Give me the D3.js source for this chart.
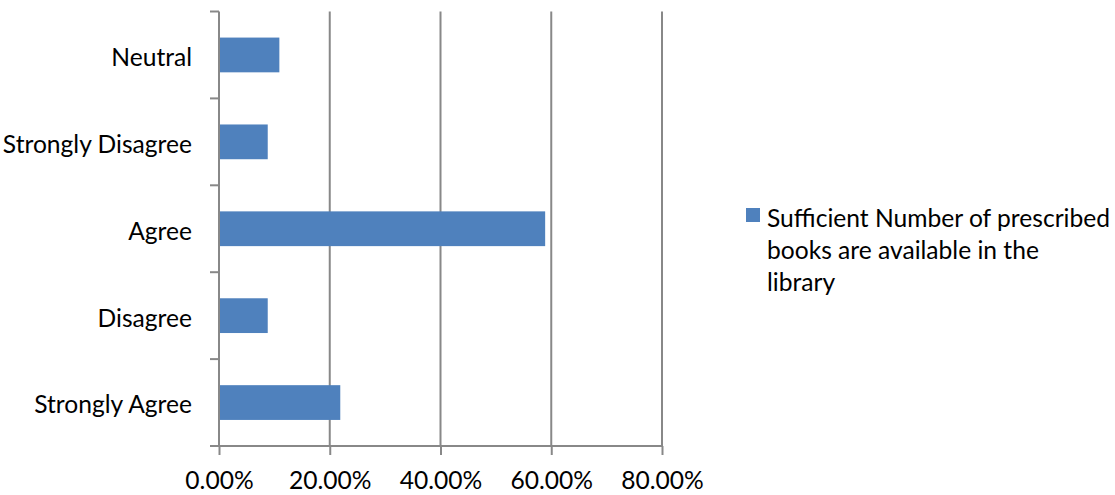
<!DOCTYPE html>
<html>
<head>
<meta charset="utf-8">
<script src="https://cdn.jsdelivr.net/npm/d3@7"></script>
<style>
  html, body { margin: 0; padding: 0; background: #fff; }
  svg { display: block; }
  text { font-family: Lato, "Open Sans", sans-serif; fill: #000; }
</style>
</head>
<body>
<svg id="chart" width="1115" height="495"></svg>
<script>
const categories = ["Neutral", "Strongly Disagree", "Agree", "Disagree", "Strongly Agree"];
const values = [0.109, 0.088, 0.589, 0.088, 0.219];
const tickValues = [0, 0.2, 0.4, 0.6, 0.8];
const seriesName = "Sufficient Number of prescribed books are available in the library";
const legendLines = ["Sufficient Number of prescribed", "books are available in the", "library"];

const svg = d3.select("#chart");
const fontSize = 24.6;
const gray = "#888888";
const barColor = "#4F81BD";

const x = d3.scaleLinear().domain([0, 0.8]).range([219, 662]);
const y = d3.scaleBand().domain(categories).range([11.5, 446]).paddingInner(0.6).paddingOuter(0.3);

// gridlines
svg.append("g").selectAll("line").data(tickValues.slice(1)).join("line")
  .attr("x1", d => x(d)).attr("x2", d => x(d))
  .attr("y1", 11.5).attr("y2", 446)
  .attr("stroke", gray).attr("stroke-width", 2);

// bars
svg.append("g").selectAll("rect").data(categories).join("rect")
  .attr("x", x(0))
  .attr("y", d => y(d))
  .attr("width", (d, i) => x(values[i]) - x(0))
  .attr("height", y.bandwidth())
  .attr("fill", barColor);

// y axis line and boundary ticks
const yAxisG = svg.append("g");
yAxisG.append("line").attr("x1", x(0)).attr("x2", x(0)).attr("y1", 11.5).attr("y2", 446)
  .attr("stroke", gray).attr("stroke-width", 2);
const bounds = d3.range(categories.length + 1).map(i => 11.5 + i * y.step());
yAxisG.selectAll("line.tick").data(bounds).join("line").attr("class", "tick")
  .attr("x1", 210).attr("x2", x(0)).attr("y1", d => d).attr("y2", d => d)
  .attr("stroke", gray).attr("stroke-width", 2);

// y labels
const yLab = svg.append("g").attr("transform", `translate(${x(0)},3)`)
  .call(d3.axisLeft(y).tickSize(0).tickPadding(27));
yLab.select(".domain").remove();
yLab.selectAll("text").style("font-size", fontSize + "px").style("font-family", "Lato, sans-serif").attr("fill", "#000");

// x axis
const xAx = svg.append("g").attr("transform", "translate(0,446)")
  .call(d3.axisBottom(x).tickValues(tickValues).tickFormat(d3.format(".2%")).tickSize(9).tickPadding(17));
xAx.select(".domain").remove();
xAx.selectAll(".tick line").attr("stroke", gray).attr("stroke-width", 2);
xAx.selectAll("text").style("font-size", fontSize + "px").style("font-family", "Lato, sans-serif").attr("fill", "#000");
svg.append("line").attr("x1", 210).attr("x2", x(0.8)).attr("y1", 446).attr("y2", 446)
  .attr("stroke", gray).attr("stroke-width", 2);

// legend
const lg = svg.append("g").attr("transform", "translate(746,208)");
lg.append("rect").attr("width", 14).attr("height", 14).attr("fill", barColor);
lg.append("text").attr("x", 21).attr("y", 19).style("font-size", fontSize + "px")
  .selectAll("tspan").data(legendLines).join("tspan")
  .attr("x", 21).attr("dy", (d, i) => i === 0 ? 0 : 32).text(d => d);
</script>
</body>
</html>
